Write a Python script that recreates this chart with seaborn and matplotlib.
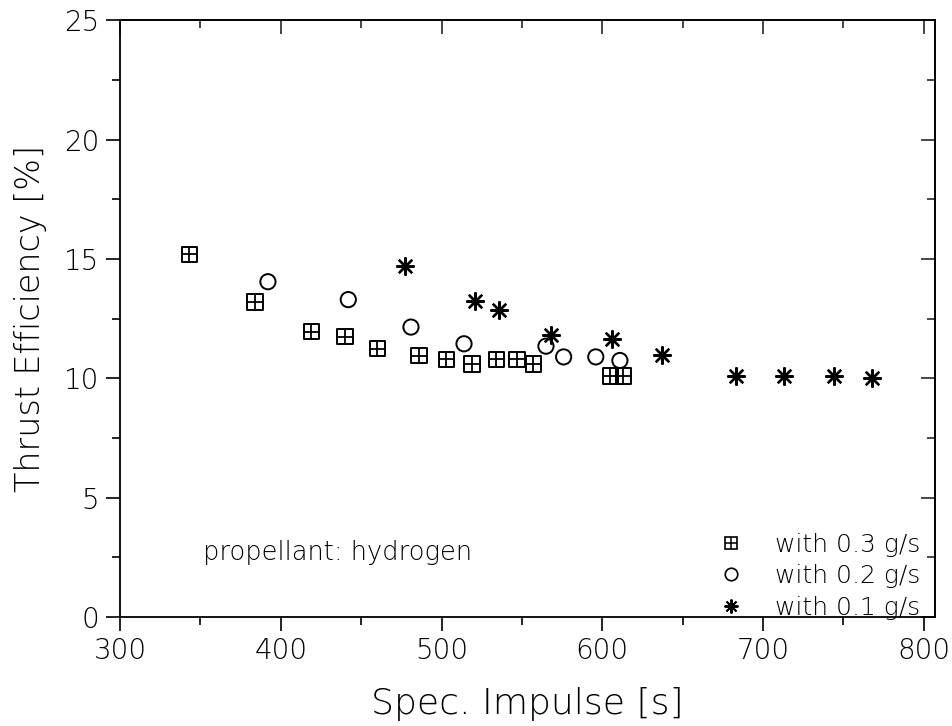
import matplotlib
matplotlib.use("Agg")
import matplotlib.pyplot as plt
import seaborn as sns
import pandas as pd
from matplotlib.ticker import MultipleLocator
from matplotlib.legend_handler import HandlerTuple
from matplotlib.lines import Line2D
from matplotlib import font_manager

# Data
x_03 = [343, 384, 419, 440, 460, 486, 503, 519, 534, 547, 557, 605, 613]
y_03 = [15.2, 13.2, 11.95, 11.75, 11.25, 10.95, 10.8, 10.6, 10.8, 10.8, 10.6, 10.1, 10.1]
x_02 = [392, 442, 481, 514, 565, 576, 596, 611]
y_02 = [14.05, 13.3, 12.15, 11.45, 11.35, 10.9, 10.9, 10.75]
x_01 = [477, 521, 536, 568, 606, 637, 683, 713, 744, 768]
y_01 = [14.7, 13.25, 12.85, 11.8, 11.65, 11.0, 10.1, 10.1, 10.1, 10.0]
legend_labels = ["with 0.3 g/s", "with 0.2 g/s", "with 0.1 g/s"]
x_ticks = [300, 400, 500, 600, 700, 800]
y_ticks = [0, 5, 10, 15, 20, 25]

sns.set_theme(style="white")

# pick a light-weight font if one is installed
light_family = "DejaVu Sans"
light_weight = "normal"
names = {f.name: f for f in font_manager.fontManager.ttflist}
for f in font_manager.fontManager.ttflist:
    if f.name == "DejaVu Sans" and f.weight in (200, "extra-light", "ultralight", "light", 300):
        light_weight = f.weight
        break
else:
    for fam in ["Roboto", "Open Sans", "Lato", "Inter", "Noto Sans"]:
        cands = [f for f in font_manager.fontManager.ttflist
                 if f.name == fam and isinstance(f.weight, int) and f.weight <= 300
                 and f.style == "normal"]
        if cands:
            light_family = fam
            light_weight = cands[0].weight
            break

plt.rcParams['font.family'] = [light_family, 'DejaVu Sans']
plt.rcParams['font.weight'] = light_weight
plt.rcParams['text.color'] = 'black'
plt.rcParams['axes.labelcolor'] = 'black'
plt.rcParams['axes.labelweight'] = light_weight

fig = plt.figure(figsize=(9.53, 7.26), dpi=100)
ax = fig.add_axes([0.126, 0.150, 0.855, 0.822])

d03 = pd.DataFrame({"x": x_03, "y": y_03})
d02 = pd.DataFrame({"x": x_02, "y": y_02})
d01 = pd.DataFrame({"x": x_01, "y": y_01})

ms = 120
sns.scatterplot(data=d03, x="x", y="y", marker="s", s=ms, facecolor="none",
                edgecolor="black", linewidth=1.4, ax=ax)
sns.scatterplot(data=d03, x="x", y="y", marker="+", s=ms * 0.95, color="black",
                linewidth=1.3, ax=ax)
sns.scatterplot(data=d02, x="x", y="y", marker="o", s=ms, facecolor="none",
                edgecolor="black", linewidth=1.4, ax=ax)
sns.scatterplot(data=d01, x="x", y="y", marker=(8, 2, 0), s=ms * 1.2, color="black",
                linewidth=1.7, ax=ax)

ax.set_xlim(300, 807)
ax.set_ylim(0, 25)
ax.set_xticks(x_ticks)
ax.set_yticks(y_ticks)
ax.xaxis.set_minor_locator(MultipleLocator(50))
ax.yaxis.set_minor_locator(MultipleLocator(2.5))

for s in ax.spines.values():
    s.set_color("black")
    s.set_linewidth(1.3)

ax.tick_params(axis="both", which="both", colors="black", labelsize=20)
ax.tick_params(axis="x", which="both", direction="out", bottom=True, top=False, pad=4)
ax.tick_params(axis="y", which="both", direction="out", left=True, right=False, pad=5)
ax.tick_params(which="major", length=10, width=1.2)
ax.tick_params(which="minor", length=6, width=1.2)
for lab in ax.get_xticklabels() + ax.get_yticklabels():
    lab.set_fontweight(light_weight)

# inward ticks on top and right
sec_x = ax.secondary_xaxis("top")
sec_x.set_xticks(x_ticks)
sec_x.xaxis.set_minor_locator(MultipleLocator(50))
sec_x.tick_params(direction="in", which="major", length=10, width=1.2, labeltop=False)
sec_x.tick_params(direction="in", which="minor", length=6, width=1.2)
sec_x.set_xticklabels([])
sec_y = ax.secondary_yaxis("right")
sec_y.set_yticks(y_ticks)
sec_y.yaxis.set_minor_locator(MultipleLocator(2.5))
sec_y.tick_params(direction="in", which="major", length=10, width=1.2, labelright=False)
sec_y.tick_params(direction="in", which="minor", length=6, width=1.2)
sec_y.set_yticklabels([])

ax.set_xlabel("Spec. Impulse [s]", fontsize=26, labelpad=16, fontweight=light_weight)
ax.set_ylabel("Thrust Efficiency [%]", fontsize=24, labelpad=12, fontweight=light_weight)

ax.text(0.102, 0.108, "propellant: hydrogen", transform=ax.transAxes,
        fontsize=18.5, va="center", ha="left", fontweight=light_weight)

h_sq = Line2D([], [], marker="s", markersize=9, markerfacecolor="none",
              markeredgecolor="black", linestyle="none", markeredgewidth=1.2)
h_pl = Line2D([], [], marker="+", markersize=9, color="black",
              linestyle="none", markeredgewidth=1.1)
h_ci = Line2D([], [], marker="o", markersize=9, markerfacecolor="none",
              markeredgecolor="black", linestyle="none", markeredgewidth=1.2)
h_st = Line2D([], [], marker=(8, 2, 0), markersize=10, color="black",
              linestyle="none", markeredgewidth=1.4)
ax.legend([(h_sq, h_pl), h_ci, h_st], legend_labels,
          handler_map={tuple: HandlerTuple(ndivide=1)},
          loc="lower right", bbox_to_anchor=(1.01, -0.042), frameon=False,
          prop={"size": 18, "weight": light_weight},
          handletextpad=1.0, labelspacing=0.3, handlelength=1.5)

fig.savefig("out.png", dpi=100)
